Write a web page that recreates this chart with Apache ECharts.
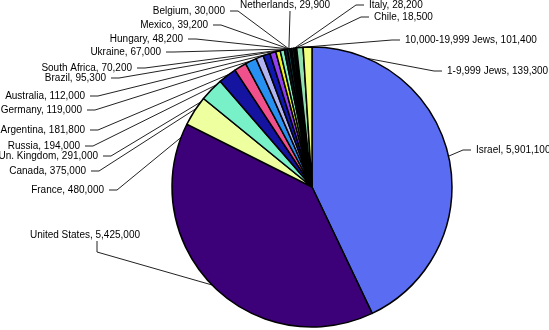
<!DOCTYPE html>
<html>
<head>
<meta charset="utf-8">
<script src="https://cdn.jsdelivr.net/npm/echarts@6/dist/echarts.min.js"></script>
<style>
  html, body { margin: 0; padding: 0; background: #fff; }
  #chart { width: 549px; height: 330px; }
</style>
</head>
<body>
<div id="chart"></div>
<script>
// data, clockwise from 12 o'clock
const countries = [
  'Israel', 'United States', 'France', 'Canada', 'Un. Kingdom', 'Russia',
  'Argentina', 'Germany', 'Australia', 'Brazil', 'South Africa', 'Ukraine',
  'Hungary', 'Mexico', 'Belgium', 'Netherlands', 'Italy', 'Chile',
  '10,000-19,999 Jews', '1-9,999 Jews'
]
const population = [
  5901100, 5425000, 480000, 375000, 291000, 194000,
  181800, 119000, 112000, 95300, 70200, 67000,
  48200, 39200, 30000, 29900, 28200, 18500,
  101400, 139300
]
const colors = [
  '#5a6cf2', '#3c0078', '#eeffa0', '#78f0c8', '#1414a0', '#f0508c',
  '#2890f0', '#b0b4f0', '#1018b0', '#9040f0', '#f0f020', '#80f0c0',
  '#101830', '#105050', '#000020', '#206060', '#101010', '#204030',
  '#90e0b0', '#f0ff80'
]

// label anchors [x, y, align]
const labelPos = [
  [476, 150, 'left'], [140, 235, 'right'], [104, 190, 'right'], [86, 171, 'right'],
  [98, 156, 'right'], [80, 146, 'right'], [85, 130, 'right'], [82, 110, 'right'],
  [85, 96, 'right'], [106, 78, 'right'], [132, 68, 'right'], [161, 52, 'right'],
  [183, 39, 'right'], [208, 25, 'right'], [225, 11, 'right'], [240, 5, 'left'],
  [369, 5, 'left'], [374, 17, 'left'], [405, 40, 'left'], [447, 71, 'left']
]

const cx = 312
const cy = 187
const radius = 140
// the small-slice leader lines all meet near the top of the pie
const meetAngle = 350.5 * Math.PI / 180
const meetPoint = [cx + radius * Math.sin(meetAngle), cy - radius * Math.cos(meetAngle)]

const fmt = (v) => v.toLocaleString('en-US')

const myChart = echarts.init(document.getElementById('chart'))

const option = {
  animation: false,
  backgroundColor: '#fff',
  series: [
    {
      type: 'pie',
      center: [cx, cy],
      radius: radius,
      startAngle: 90,
      clockwise: true,
      avoidLabelOverlap: false,
      data: countries.map((name, i) => ({
        name: name,
        value: population[i],
        itemStyle: { color: colors[i] }
      })),
      itemStyle: {
        borderColor: '#000',
        borderWidth: 1.5
      },
      label: {
        show: true,
        position: 'outside',
        color: '#000',
        fontFamily: 'Liberation Sans',
        fontSize: 10,
        formatter: (p) => p.name + ', ' + fmt(p.value)
      },
      labelLine: {
        show: true,
        length: 10,
        length2: 10,
        lineStyle: { color: '#222', width: 1 }
      },
      labelLayout: (params) => {
        const i = params.dataIndex
        const [x, y, align] = labelPos[i]
        const own = params.labelLinePoints ? params.labelLinePoints[0] : meetPoint
        let points
        if (i === 1) {
          points = [own, [97, 252], [97, 241]]
        } else if (i === 15) {
          points = [meetPoint, [290, 12], [290, 11]]
        } else {
          const start = (i >= 2 && i <= 14) ? meetPoint : own
          const dir = align === 'right' ? 1 : -1
          points = [start, [x + dir * 13, y], [x + dir * 5, y]]
        }
        return {
          x: x,
          y: y,
          align: align,
          verticalAlign: 'middle',
          labelLinePoints: points
        }
      }
    }
  ]
}

myChart.setOption(option)
</script>
</body>
</html>
